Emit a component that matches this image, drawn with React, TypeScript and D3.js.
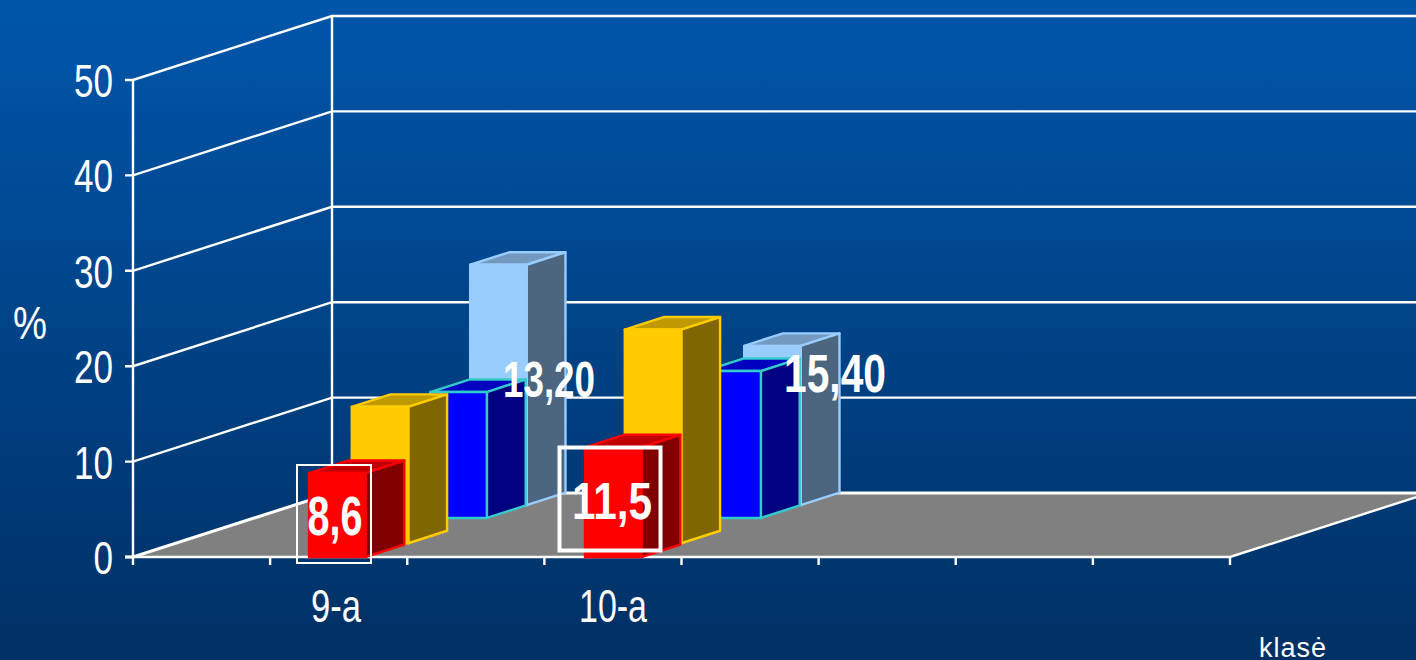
import React from "react";
import * as d3 from "d3";

const W = 1416, H = 660;

// --- data ---
const categories = ["9-a", "10-a"];
const yTicks = [0, 10, 20, 30, 40, 50];
const redValues = [8.8, 11.5];
const yellowValues = [14.3, 22.4];
const blueValues = [13.2, 15.4];
const lightBlueValues = [25.2, 16.7];
const valueLabels = ["8,6", "11,5", "13,20", "15,40"];
const yAxisTitle = "%";
const xAxisTitle = "klasė";

// --- styles and layout, separate from the data ---
const series = [
  { values: lightBlueValues, depth: 0.81, shift: [0, 0], face: "#99ccff", side: "#4d6680", top: "#7399bf", stroke: "#99ccff" },
  { values: blueValues, depth: 0.61, shift: [0, 0], face: "#0000ff", side: "#000080", top: "#0000c0", stroke: "#33cccc" },
  { values: yellowValues, depth: 0.215, shift: [0, -1], face: "#ffcc00", side: "#806600", top: "#bf9900", stroke: "#ffcc00" },
  { values: redValues, depth: 0, shift: [0, 2], face: "#ff0000", side: "#800000", top: "#c00000", stroke: "#ff0000" },
];
const labelLayout = [
  { x: 335, y: 535, h: 40, w: 55, box: { x: 297, y: 465, w: 74, h: 98, sw: 2 } },
  { x: 612, y: 519, h: 37, w: 80, box: { x: 559.5, y: 447.5, w: 101, h: 103, sw: 4 } },
  { x: 549, y: 397, h: 36, w: 92 },
  { x: 835, y: 392, h: 39, w: 102 },
];

const FRONT_LEFT = 133, FRONT_RIGHT = 1230, Y0 = 557, Y50 = 80;
const DX = 199, DY = -64;
const BAR_W = 56.5, BAR_DEPTH = 0.195;
const GLYPH_W = 19.5;

const y = d3.scaleLinear().domain([0, 50]).range([Y0, Y50]);
const xCat = d3.scalePoint<string>().domain(categories).range([309, 583]);
const xTick = d3.scaleLinear().domain([0, 8]).range([FRONT_LEFT, FRONT_RIGHT]);
const proj = (x: number, v: number, d: number): [number, number] => [x + d * DX, y(v) + d * DY];
const poly = (pts: [number, number][]) => (d3.line()(pts) ?? "") + "Z";

export default function App() {
  const floor = poly([proj(FRONT_LEFT, 0, 0), proj(FRONT_RIGHT, 0, 0), proj(FRONT_RIGHT, 0, 1), proj(FRONT_LEFT, 0, 1)]);
  const textFont = "'Liberation Sans',Arial,sans-serif";
  const catWidths = [50, 68];
  return (
    <svg width={W} height={H} style={{ position: "absolute", left: 0, top: 0, display: "block" }}>
      <defs>
        <linearGradient id="bg" x1="0" y1="0" x2="0" y2="1">
          <stop offset="0" stopColor="#0056ab" />
          <stop offset="1" stopColor="#003064" />
        </linearGradient>
      </defs>
      <rect width={W} height={H} fill="url(#bg)" />
      <path d={floor} fill="#808080" />
      <g stroke="#fff" strokeWidth={2.4} fill="none">
        {yTicks.map((t) => {
          const a = proj(FRONT_LEFT, t, 0), b = proj(FRONT_LEFT, t, 1), c = proj(FRONT_RIGHT + 250, t, 1);
          return <path key={t} d={d3.line()([[a[0] - 8, a[1]], a, b, c]) ?? ""} strokeWidth={t === 0 ? 3 : 2.4} />;
        })}
        <path d={d3.line()([proj(FRONT_LEFT, 0, 0), proj(FRONT_LEFT, 50, 0)]) ?? ""} />
        <path d={d3.line()([proj(FRONT_LEFT, 0, 1), proj(FRONT_LEFT, 50, 1)]) ?? ""} />
        <path d={d3.line()([[FRONT_LEFT - 8, Y0], [FRONT_RIGHT, Y0], proj(FRONT_RIGHT, 0, 1)]) ?? ""} />
        {d3.range(0, 9).map((i) => (
          <path key={i} d={`M${xTick(i)},${Y0}V${Y0 + 8}`} />
        ))}
      </g>

      {series.map((s, si) =>
        s.values.map((v, ci) => {
          const x0 = xCat(categories[ci])! + s.shift[ci];
          const x1 = x0 + BAR_W;
          const d0 = s.depth, d1 = s.depth + BAR_DEPTH;
          return (
            <g key={`${si}-${ci}`} stroke={s.stroke} strokeWidth={2.4} strokeLinejoin="round">
              <path d={poly([proj(x0, v, d0), proj(x1, v, d0), proj(x1, v, d1), proj(x0, v, d1)])} fill={s.top} />
              <path d={poly([proj(x1, 0, d0), proj(x1, v, d0), proj(x1, v, d1), proj(x1, 0, d1)])} fill={s.side} />
              <path d={poly([proj(x0, 0, d0), proj(x1, 0, d0), proj(x1, v, d0), proj(x0, v, d0)])} fill={s.face} />
            </g>
          );
        })
      )}

      <g fill="#fff" fontFamily={textFont} fontSize={47} textAnchor="end">
        {yTicks.map((t) => (
          <text key={t} x={113} y={y(t) + 17} textLength={String(t).length * GLYPH_W} lengthAdjust="spacingAndGlyphs">{t}</text>
        ))}
      </g>
      <g fill="#fff" fontFamily={textFont} fontSize={47} textAnchor="middle">
        {categories.map((c, i) => (
          <text key={c} x={[336, 613][i]} y={622} textLength={catWidths[i]} lengthAdjust="spacingAndGlyphs">{c}</text>
        ))}
      </g>
      <text x={30} y={339} fill="#fff" fontFamily={textFont} fontSize={47} textAnchor="middle" textLength={34} lengthAdjust="spacingAndGlyphs">{yAxisTitle}</text>
      <text x={1259} y={657} fill="#fff" fontFamily={textFont} fontSize={27} letterSpacing={1}>{xAxisTitle}</text>

      {valueLabels.map((t, i) => {
        const l = labelLayout[i];
        return (
          <g key={t}>
            {l.box && (
              <rect x={l.box.x} y={l.box.y} width={l.box.w} height={l.box.h} fill="none" stroke="#fff" strokeWidth={l.box.sw} />
            )}
            <text
              x={l.x} y={l.y} fill="#fff" fontFamily={textFont} fontWeight="bold"
              fontSize={l.h / 0.716} textAnchor="middle" textLength={l.w} lengthAdjust="spacingAndGlyphs"
            >{t}</text>
          </g>
        );
      })}
    </svg>
  );
}
